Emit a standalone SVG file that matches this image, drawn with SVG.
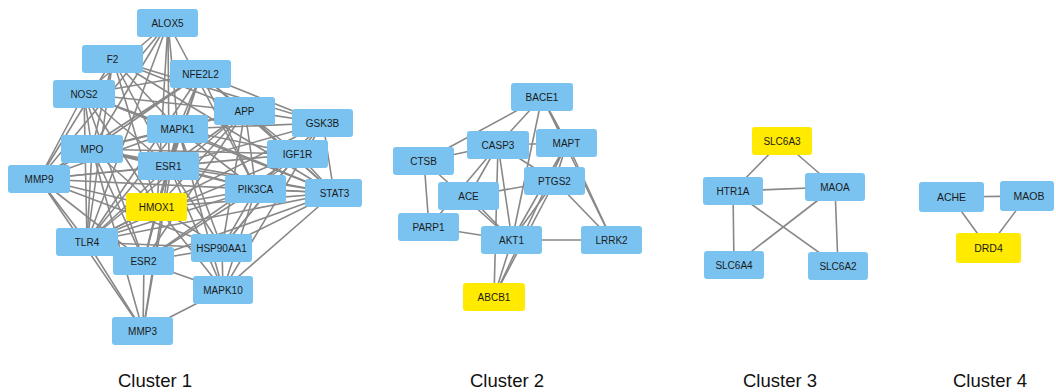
<svg xmlns="http://www.w3.org/2000/svg" width="1056" height="392" viewBox="0 0 1056 392">
<style>
.e path{stroke:#888;stroke-width:1.6;fill:none}
.b{fill:#7AC3F0}
.y{fill:#FFEA00}
.t{font-family:"Liberation Sans",Arial,sans-serif;font-size:10px;fill:#1a1a1a;text-anchor:middle}
.c{font-family:"Liberation Sans",Arial,sans-serif;font-size:18.5px;fill:#111;text-anchor:middle}
</style>
<rect width="1056" height="392" fill="#fff"/>
<g id="connectors" class="e">
<!-- Cluster 1 -->
<path d="M168 23L84 94M168 23L92 149M168 23L39 179M168 23L87 242M168 23L169 166M168 23L178 129M168 23L157 207M168 23L256 189"/>
<path d="M113 59L178 129M113 59L245 111M113 59L323 123M113 59L92 149M113 59L39 179M113 59L87 242M113 59L169 166M113 59L157 207M113 59L334 193"/>
<path d="M201 74L84 94M201 74L92 149M201 74L39 179M201 74L178 129M201 74L169 166M201 74L157 207M201 74L245 111M201 74L323 123M201 74L87 242M201 74L256 189M201 74L334 193"/>
<path d="M84 94L178 129M84 94L169 166M84 94L157 207M84 94L87 242M84 94L39 179M84 94L92 149M84 94L245 111M84 94L334 193M84 94L144 261"/>
<path d="M245 111L178 129M245 111L323 123M245 111L169 166M245 111L298 154M245 111L256 189M245 111L334 193M245 111L157 207M245 111L92 149M245 111L87 242M245 111L222 248M245 111L144 261"/>
<path d="M323 123L178 129M323 123L169 166M323 123L298 154M323 123L256 189M323 123L334 193M323 123L222 248M323 123L87 242M323 123L223 290"/>
<path d="M178 129L92 149M178 129L169 166M178 129L298 154M178 129L256 189M178 129L334 193M178 129L157 207M178 129L87 242M178 129L222 248M178 129L144 261M178 129L223 290M178 129L39 179M178 129L143 331"/>
<path d="M92 149L169 166M92 149L157 207M92 149L87 242M92 149L39 179M92 149L334 193M92 149L144 261M92 149L143 331M92 149L256 189M92 149L298 154"/>
<path d="M298 154L169 166M298 154L256 189M298 154L334 193M298 154L222 248M298 154L87 242M298 154L39 179M298 154L144 261"/>
<path d="M169 166L39 179M169 166L256 189M169 166L334 193M169 166L157 207M169 166L87 242M169 166L222 248M169 166L144 261M169 166L223 290M169 166L143 331"/>
<path d="M39 179L157 207M39 179L87 242M39 179L256 189M39 179L334 193M39 179L144 261M39 179L143 331M39 179L222 248"/>
<path d="M256 189L334 193M256 189L157 207M256 189L87 242M256 189L222 248M256 189L144 261M256 189L223 290"/>
<path d="M334 193L157 207M334 193L87 242M334 193L222 248M334 193L144 261M334 193L223 290"/>
<path d="M157 207L87 242M157 207L222 248M157 207L144 261M157 207L223 290"/>
<path d="M87 242L222 248M87 242L144 261M87 242L223 290M87 242L143 331"/>
<path d="M222 248L144 261M222 248L223 290M144 261L143 331M223 290L143 331"/>
<!-- Cluster 2 -->
<path d="M542 97L424 161M542 97L498 145M542 97L567 143M542 97L512 240M542 97L612 240"/>
<path d="M498 145L567 143M498 145L424 161M498 145L555 181M498 145L469 196M498 145L429 227M498 145L512 240M498 145L494 297"/>
<path d="M424 161L429 227M424 161L512 240"/>
<path d="M469 196L555 181M469 196L512 240"/>
<path d="M429 227L512 240"/>
<path d="M567 143L555 181M567 143L612 240M567 143L512 240M567 143L494 297"/>
<path d="M555 181L512 240M555 181L612 240M555 181L494 297"/>
<path d="M512 240L612 240M512 240L494 297"/>
<!-- Cluster 3 -->
<path d="M782 141L733 191M782 141L835 187M733 191L835 187M733 191L734 265M733 191L838 266M835 187L734 265M835 187L838 266"/>
<!-- Cluster 4 -->
<path d="M951 197L1027 196M951 197L988 248M1027 196L988 248"/>
</g>
<g id="node-ALOX5"><rect class="b" x="137" y="9" width="61" height="28" rx="3"/><text class="t" x="167.5" y="26.5">ALOX5</text></g>
<g id="node-F2"><rect class="b" x="82" y="45" width="61" height="28" rx="3"/><text class="t" x="112.5" y="62.5">F2</text></g>
<g id="node-NFE2L2"><rect class="b" x="170" y="60" width="61" height="28" rx="3"/><text class="t" x="200.5" y="77.5">NFE2L2</text></g>
<g id="node-NOS2"><rect class="b" x="53" y="80" width="62" height="28" rx="3"/><text class="t" x="84" y="97.5">NOS2</text></g>
<g id="node-APP"><rect class="b" x="214" y="97" width="61" height="28" rx="3"/><text class="t" x="244.5" y="114.5">APP</text></g>
<g id="node-GSK3B"><rect class="b" x="292" y="109" width="61" height="28" rx="3"/><text class="t" x="322.5" y="126.5">GSK3B</text></g>
<g id="node-MAPK1"><rect class="b" x="147" y="115" width="61" height="28" rx="3"/><text class="t" x="177.5" y="132.5">MAPK1</text></g>
<g id="node-MPO"><rect class="b" x="61" y="135" width="62" height="28" rx="3"/><text class="t" x="92" y="152.5">MPO</text></g>
<g id="node-IGF1R"><rect class="b" x="267" y="140" width="61" height="28" rx="3"/><text class="t" x="297.5" y="157.5">IGF1R</text></g>
<g id="node-ESR1"><rect class="b" x="138" y="152" width="61" height="28" rx="3"/><text class="t" x="168.5" y="169.5">ESR1</text></g>
<g id="node-MMP9"><rect class="b" x="8" y="165" width="62" height="28" rx="3"/><text class="t" x="39" y="182.5">MMP9</text></g>
<g id="node-PIK3CA"><rect class="b" x="225" y="175" width="61" height="28" rx="3"/><text class="t" x="255.5" y="192.5">PIK3CA</text></g>
<g id="node-STAT3"><rect class="b" x="305" y="179" width="57" height="28" rx="3"/><text class="t" x="334.5" y="196.5">STAT3</text></g>
<g id="node-HMOX1"><rect class="y" x="126" y="193" width="61" height="28" rx="3"/><text class="t" x="156.5" y="210.5">HMOX1</text></g>
<g id="node-TLR4"><rect class="b" x="56" y="228" width="62" height="28" rx="3"/><text class="t" x="87" y="245.5">TLR4</text></g>
<g id="node-HSP90AA1"><rect class="b" x="191" y="234" width="61" height="28" rx="3"/><text class="t" x="221.5" y="251.5">HSP90AA1</text></g>
<g id="node-ESR2"><rect class="b" x="113" y="247" width="61" height="28" rx="3"/><text class="t" x="143.5" y="264.5">ESR2</text></g>
<g id="node-MAPK10"><rect class="b" x="193" y="276" width="60" height="28" rx="3"/><text class="t" x="223" y="293.5">MAPK10</text></g>
<g id="node-MMP3"><rect class="b" x="112" y="317" width="61" height="28" rx="3"/><text class="t" x="142.5" y="334.5">MMP3</text></g>
<g id="node-BACE1"><rect class="b" x="511" y="83" width="62" height="28" rx="3"/><text class="t" x="542" y="100.5">BACE1</text></g>
<g id="node-CASP3"><rect class="b" x="467" y="131" width="62" height="28" rx="3"/><text class="t" x="498" y="148.5">CASP3</text></g>
<g id="node-MAPT"><rect class="b" x="536" y="129" width="61" height="28" rx="3"/><text class="t" x="566.5" y="146.5">MAPT</text></g>
<g id="node-CTSB"><rect class="b" x="393" y="147" width="61" height="28" rx="3"/><text class="t" x="423.5" y="164.5">CTSB</text></g>
<g id="node-PTGS2"><rect class="b" x="524" y="167" width="61" height="28" rx="3"/><text class="t" x="554.5" y="184.5">PTGS2</text></g>
<g id="node-ACE"><rect class="b" x="438" y="182" width="61" height="28" rx="3"/><text class="t" x="468.5" y="199.5">ACE</text></g>
<g id="node-PARP1"><rect class="b" x="398" y="213" width="61" height="28" rx="3"/><text class="t" x="428.5" y="230.5">PARP1</text></g>
<g id="node-AKT1"><rect class="b" x="481" y="226" width="61" height="28" rx="3"/><text class="t" x="511.5" y="243.5">AKT1</text></g>
<g id="node-LRRK2"><rect class="b" x="581" y="226" width="61" height="28" rx="3"/><text class="t" x="611.5" y="243.5">LRRK2</text></g>
<g id="node-ABCB1"><rect class="y" x="463" y="283" width="62" height="28" rx="3"/><text class="t" x="494" y="300.5">ABCB1</text></g>
<g id="node-SLC6A3"><rect class="y" x="752" y="127" width="60" height="28" rx="3"/><text class="t" x="782" y="144.5">SLC6A3</text></g>
<g id="node-HTR1A"><rect class="b" x="703" y="177" width="60" height="28" rx="3"/><text class="t" x="733" y="194.5">HTR1A</text></g>
<g id="node-MAOA"><rect class="b" x="805" y="173" width="60" height="28" rx="3"/><text class="t" x="835" y="190.5">MAOA</text></g>
<g id="node-SLC6A4"><rect class="b" x="704" y="251" width="60" height="28" rx="3"/><text class="t" x="734" y="268.5">SLC6A4</text></g>
<g id="node-SLC6A2"><rect class="b" x="808" y="252" width="60" height="28" rx="3"/><text class="t" x="838" y="269.5">SLC6A2</text></g>
<g id="node-ACHE"><rect class="b" x="919" y="182" width="65" height="30" rx="3"/><text class="t" x="951.5" y="200.5" style="font-size:10.5px">ACHE</text></g>
<g id="node-MAOB"><rect class="b" x="1000" y="181" width="54" height="30" rx="3"/><text class="t" x="1029" y="199.5" style="font-size:10.5px">MAOB</text></g>
<g id="node-DRD4"><rect class="y" x="956" y="233" width="65" height="30" rx="3"/><text class="t" x="988.5" y="251.5" style="font-size:10.5px">DRD4</text></g>
<g id="labels">
<text class="c" x="155" y="387">Cluster 1</text>
<text class="c" x="507" y="387">Cluster 2</text>
<text class="c" x="780" y="387">Cluster 3</text>
<text class="c" x="990" y="387">Cluster 4</text>
</g>
</svg>
